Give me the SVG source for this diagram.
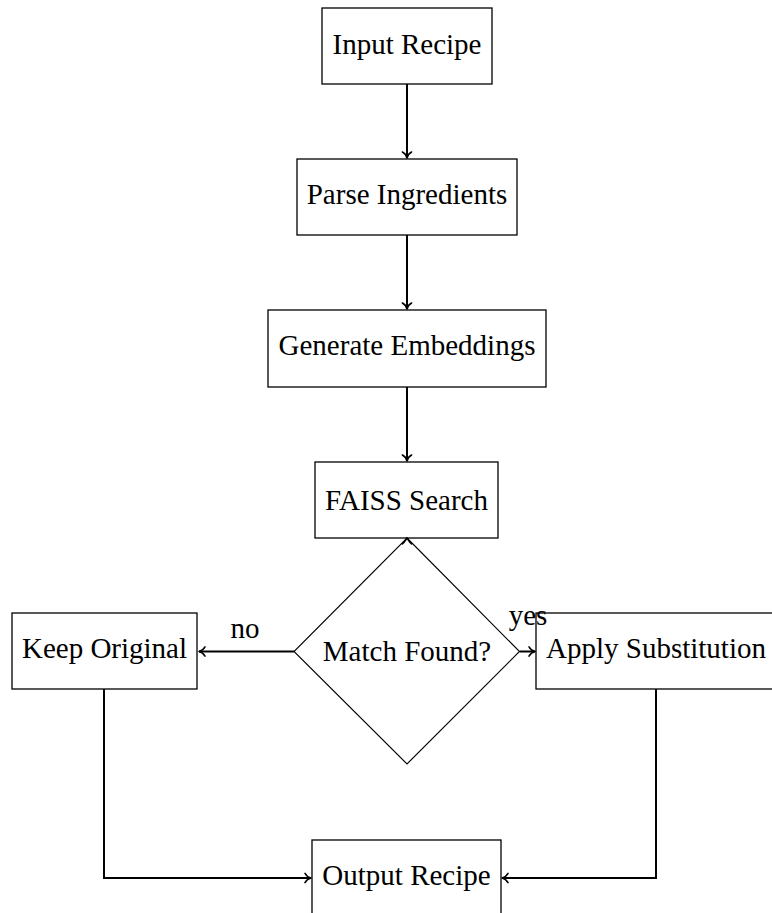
<svg xmlns="http://www.w3.org/2000/svg" width="772" height="913" viewBox="0 0 772 913">
<style>
.box{fill:#fff;stroke:#000;stroke-width:1.3}
.dia{fill:#fff;stroke:#000;stroke-width:1.1}
.lbl{font-family:"Liberation Serif","Times New Roman",serif;font-size:29px;fill:#000;text-anchor:middle}
.edge{fill:none;stroke:#000;stroke-width:2}
.ah{fill:none;stroke:#000;stroke-width:1.6;stroke-linecap:round;stroke-linejoin:round}
</style>
<defs>
<marker id="arr" markerUnits="userSpaceOnUse" viewBox="-8 -6 10 12" refX="0" refY="0" markerWidth="10" markerHeight="12" orient="auto" overflow="visible">
<path class="ah" d="M-6,-4.6 C-4.5,-1.8 -2,-0.4 0,0 C-2,0.4 -4.5,1.8 -6,4.6"/>
</marker>
</defs>
<rect width="772" height="913" fill="#fff"/>
<g id="input-recipe">
<rect class="box" x="322" y="8" width="170" height="76"/>
<text class="lbl" x="407" y="53.5">Input Recipe</text>
</g>
<g id="parse-ingredients">
<rect class="box" x="297" y="159" width="220" height="76"/>
<text class="lbl" x="407" y="204">Parse Ingredients</text>
</g>
<g id="generate-embeddings">
<rect class="box" x="268" y="310" width="278" height="77"/>
<text class="lbl" x="407" y="355">Generate Embeddings</text>
</g>
<g id="faiss-search">
<rect class="box" x="315" y="462" width="183" height="76"/>
<text class="lbl" x="406.5" y="509.5">FAISS Search</text>
</g>
<g id="match-found">
<polygon class="dia" points="407,538 519.5,651.5 407,764 294,651.5"/>
<text class="lbl" x="407" y="661">Match Found?</text>
</g>
<g id="keep-original">
<rect class="box" x="12" y="613" width="185" height="76"/>
<text class="lbl" x="104.5" y="658.3">Keep Original</text>
</g>
<g id="apply-substitution">
<rect class="box" x="536" y="613" width="240" height="76"/>
<text class="lbl" x="656" y="657.7">Apply Substitution</text>
</g>
<g id="output-recipe">
<rect class="box" x="312" y="840" width="189" height="76"/>
<text class="lbl" x="406.5" y="885">Output Recipe</text>
</g>
<g id="connectors">
<path class="edge" d="M407,84 V158" marker-end="url(#arr)"/>
<path class="edge" d="M407,235 V309" marker-end="url(#arr)"/>
<path class="edge" d="M407,387 V461" marker-end="url(#arr)"/>
<path class="ah" d="M402.4,544 C404.2,542.5 405.6,540 407,538 C408.4,540 409.8,542.5 411.6,544"/>
<path class="edge" d="M294,651.5 H199" marker-end="url(#arr)"/>
<path class="edge" d="M519.5,651.5 H535" marker-end="url(#arr)"/>
<path class="edge" d="M104,689 V878 H311" marker-end="url(#arr)"/>
<path class="edge" d="M656,689 V878 H502" marker-end="url(#arr)"/>
<text class="lbl" x="245" y="638">no</text>
<text class="lbl" x="528" y="625">yes</text>
</g>
</svg>
